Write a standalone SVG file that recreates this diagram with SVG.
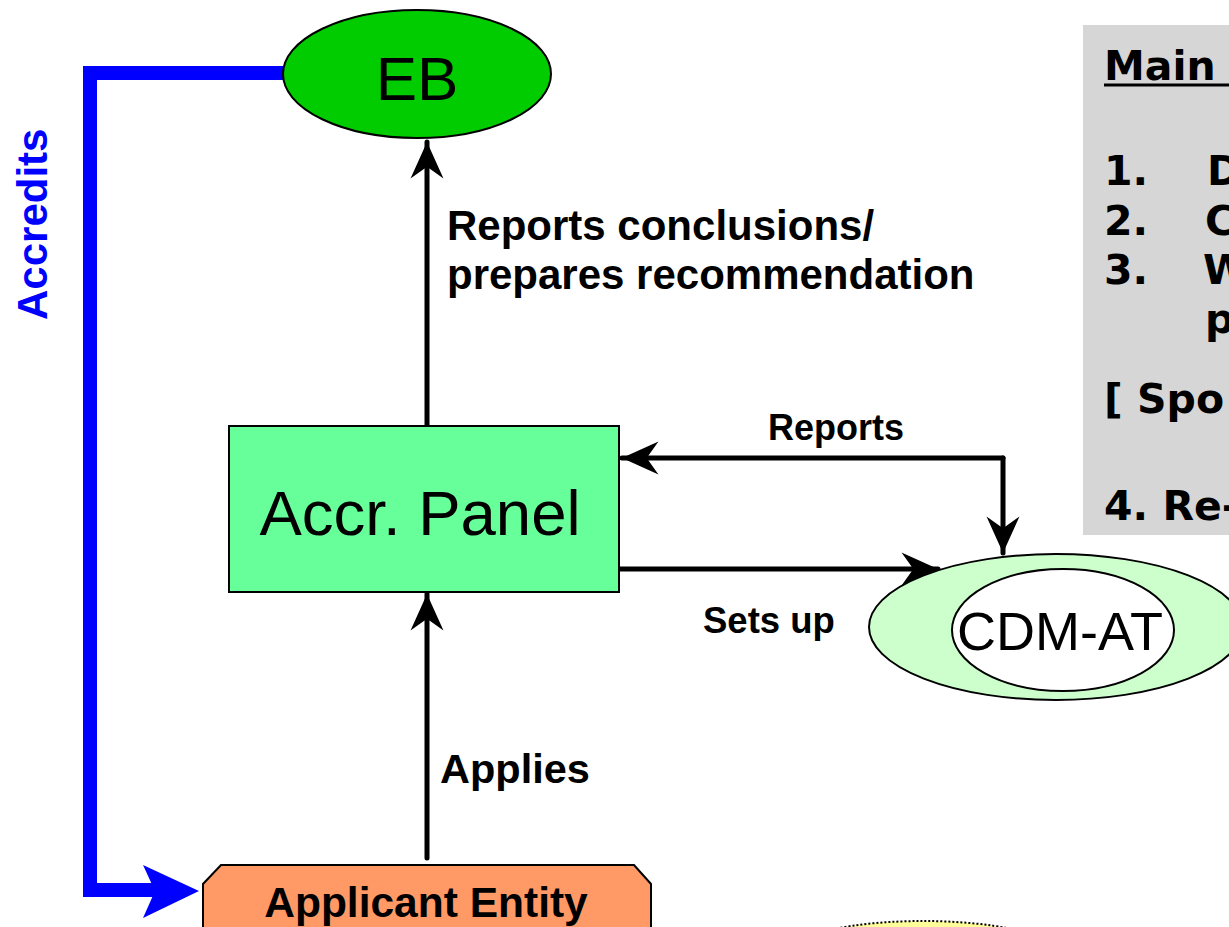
<svg xmlns="http://www.w3.org/2000/svg" width="1229" height="927" viewBox="0 0 1229 927">
<style>
.lbl{font-family:"Liberation Sans",Arial,sans-serif;font-weight:bold;fill:#000}
.conn{stroke:#000;stroke-width:5;fill:none;stroke-linecap:round}
.box{font-family:"DejaVu Sans",Verdana,sans-serif;font-weight:bold;font-size:41px;fill:#000}
</style>
<defs>
<marker id="ah" markerUnits="userSpaceOnUse" markerWidth="40" markerHeight="40" viewBox="-32 -16 34 32" refX="0" refY="0" orient="auto">
<path d="M0,0 L-31,-14 L-21,0 L-31,14 Z" fill="#000"/>
</marker>
</defs>
<rect width="1229" height="927" fill="#fff"/>

<g id="info-box">
<rect x="1083" y="25" width="160" height="510" fill="#d6d6d6"/>
<text class="box" x="1104" y="80">Main</text>
<line x1="1104" y1="85" x2="1229" y2="85" stroke="#000" stroke-width="3"/>
<text class="box" x="1104" y="185">1.</text><text class="box" x="1207" y="185">D</text>
<text class="box" x="1104" y="235">2.</text><text class="box" x="1205" y="235">C</text>
<text class="box" x="1104" y="284">3.</text><text class="box" x="1203" y="284">W</text>
<text class="box" x="1205" y="333">p</text>
<text class="box" x="1104" y="413">[ Spo</text>
<text class="box" x="1104" y="520">4. Re-</text>
</g>

<g id="connectors">
<path d="M285,73 H90 V890 H160" stroke="#0000ff" stroke-width="14" fill="none"/>
<path d="M143,865 L199,891 L143,918 L155,891 Z" fill="#0000ff"/>
<line class="conn" x1="427" y1="426" x2="427" y2="142" marker-end="url(#ah)"/>
<line class="conn" x1="427" y1="858" x2="427" y2="594" marker-end="url(#ah)"/>
<polyline class="conn" points="1003,458 622,458" marker-end="url(#ah)"/>
<polyline class="conn" points="1003,458 1003,553" marker-end="url(#ah)"/>
<line class="conn" x1="620" y1="569" x2="938" y2="569" marker-end="url(#ah)"/>
</g>

<g id="labels">
<text class="lbl" font-size="42" transform="translate(47,320) rotate(-90)" style="fill:#0000ff">Accredits</text>
<text class="lbl" font-size="42" x="447" y="240">Reports conclusions/</text>
<text class="lbl" font-size="42" x="447" y="289">prepares recommendation</text>
<text class="lbl" font-size="36" x="768" y="440">Reports</text>
<text class="lbl" font-size="36.5" x="703" y="633">Sets up</text>
<text class="lbl" font-size="41.5" x="440" y="783">Applies</text>
</g>

<g id="eb">
<ellipse cx="417" cy="74" rx="134" ry="64" fill="#00cc00" stroke="#000" stroke-width="2"/>
<text x="417" y="100" font-family="Liberation Sans,Arial,sans-serif" font-size="62" text-anchor="middle">EB</text>
</g>

<g id="accr-panel">
<rect x="229" y="426" width="390" height="166" fill="#66ff99" stroke="#000" stroke-width="2"/>
<text x="420" y="535" font-family="Liberation Sans,Arial,sans-serif" font-size="63.5" text-anchor="middle">Accr. Panel</text>
</g>

<g id="cdm-at">
<ellipse cx="1056" cy="627" rx="187" ry="73" fill="#ccffcc" stroke="#000" stroke-width="2"/>
<ellipse cx="1063" cy="630" rx="111" ry="61" fill="#fff" stroke="#000" stroke-width="2"/>
<text x="1060" y="650" font-family="Liberation Sans,Arial,sans-serif" font-size="54" text-anchor="middle">CDM-AT</text>
</g>

<g id="applicant-entity">
<polygon points="221,865 634,865 651,884 651,935 634,952 221,952 203,935 203,884" fill="#ff9966" stroke="#000" stroke-width="2"/>
<text class="lbl" font-size="42.5" x="426" y="917" text-anchor="middle">Applicant Entity</text>
</g>

<g id="bottom-ellipse">
<ellipse cx="923" cy="951" rx="130" ry="30" fill="#ffff99" stroke="#000" stroke-width="2" stroke-dasharray="2,2"/>
</g>
</svg>
